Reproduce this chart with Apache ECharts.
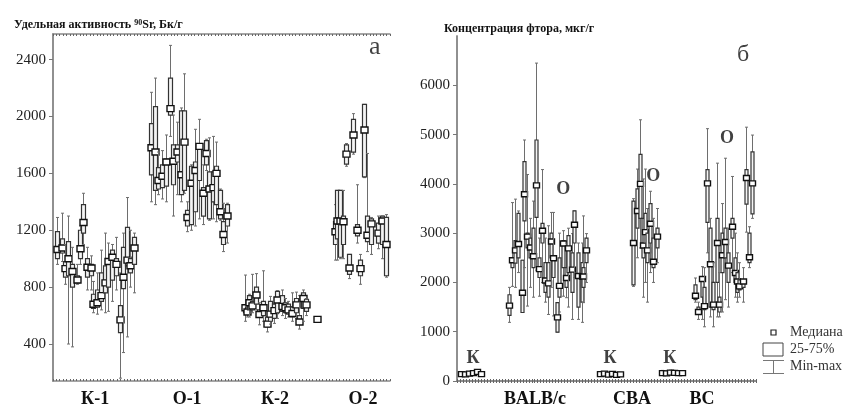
<!DOCTYPE html>
<html>
<head>
<meta charset="utf-8">
<script src="https://cdn.jsdelivr.net/npm/echarts@6/dist/echarts.min.js"></script>
<style>
html, body { margin: 0; padding: 0; background: #fff; }
#chart { width: 845px; height: 408px; }
</style>
</head>
<body>
<div id="chart"></div>
<script>
// rows: sample position, min, q1, median, q3, max

// panel a, 90Sr activity, Bq/g
var sr_k1 = [
    [1.2, 960, 1000, 1065, 1190, 1290],
    [2.7, 980, 1040, 1075, 1140, 1320],
    [3.6, 820, 870, 930, 980, 1100],
    [4.5, 400, 880, 1000, 1120, 1300],
    [5.6, 380, 800, 910, 960, 1080],
    [7.1, 820, 830, 850, 880, 960],
    [8.0, 960, 1000, 1070, 1200, 1230],
    [8.9, 1100, 1180, 1255, 1380, 1460],
    [10.1, 780, 870, 940, 1000, 1080],
    [11.3, 780, 880, 935, 960, 1020],
    [11.9, 620, 650, 680, 750, 840],
    [13.1, 610, 660, 690, 780, 900],
    [14.2, 640, 700, 740, 900, 1060],
    [15.4, 620, 760, 830, 950, 1180],
    [16.3, 630, 800, 980, 1000, 1110],
    [17.5, 700, 850, 1010, 1060, 1100],
    [18.7, 780, 880, 960, 1000, 1150],
    [19.9, 160, 480, 570, 670, 900],
    [20.8, 340, 790, 870, 1080, 1180],
    [22.0, 450, 950, 990, 1220, 1430],
    [22.8, 800, 900, 950, 1000, 1200],
    [24.0, 760, 960, 1075, 1150, 1180]
];
var sr_o1 = [
    [29.1, 1400, 1590, 1780, 1950, 2170],
    [30.3, 1380, 1480, 1750, 2070, 2270],
    [31.2, 1450, 1490, 1550, 1640, 1750],
    [32.3, 1420, 1500, 1580, 1660, 1760],
    [33.5, 1400, 1510, 1680, 1700, 1870],
    [34.7, 1860, 2010, 2055, 2270, 2500],
    [35.6, 1300, 1520, 1685, 1800, 2010],
    [36.8, 1450, 1680, 1750, 1800, 1960],
    [38.0, 1400, 1450, 1590, 2040, 2060],
    [38.9, 1460, 1480, 1820, 2040, 2300],
    [39.8, 1190, 1230, 1290, 1340, 1400],
    [40.9, 1200, 1240, 1530, 1650, 1660],
    [42.1, 1230, 1330, 1620, 1680, 1910],
    [43.3, 1280, 1550, 1790, 1800, 1980],
    [44.5, 1240, 1300, 1460, 1500, 1660],
    [45.4, 1620, 1660, 1740, 1830, 1840],
    [46.3, 1270, 1280, 1490, 1610, 1850],
    [47.5, 1280, 1400, 1500, 1610, 1860],
    [48.4, 1260, 1380, 1600, 1650, 1820],
    [49.6, 1270, 1280, 1330, 1480, 1490],
    [50.4, 1050, 1100, 1170, 1260, 1390],
    [51.6, 1110, 1230, 1300, 1380, 1390]
];
var sr_k2 = [
    [57.0, 560, 620, 655, 675, 885],
    [57.6, 590, 610, 625, 660, 700],
    [58.2, 590, 640, 690, 740, 750],
    [59.1, 620, 640, 668, 700, 890],
    [60.2, 640, 680, 745, 800, 895],
    [61.1, 535, 590, 608, 640, 690],
    [62.3, 560, 600, 655, 700, 915],
    [63.5, 485, 520, 540, 590, 590],
    [64.4, 540, 560, 610, 700, 735],
    [65.6, 545, 580, 635, 680, 680],
    [66.5, 580, 620, 710, 770, 775],
    [68.0, 600, 630, 665, 740, 780],
    [68.8, 580, 620, 655, 690, 720],
    [69.7, 590, 610, 640, 680, 700],
    [70.9, 560, 590, 615, 660, 760],
    [72.1, 580, 620, 675, 720, 765],
    [73.0, 505, 540, 555, 600, 740],
    [74.2, 560, 650, 720, 760, 780],
    [75.1, 600, 630, 675, 715, 720],
    [78.3, 560, 560, 573, 590, 590]
];
var sr_o2 = [
    [83.7, 990, 1100, 1190, 1260, 1380],
    [84.3, 990, 1140, 1265, 1480, 1480],
    [85.2, 1000, 1010, 1265, 1480, 1480],
    [86.1, 1000, 1100, 1260, 1300, 1480],
    [87.0, 1650, 1665, 1735, 1800, 1810],
    [87.8, 860, 890, 935, 1030, 1030],
    [89.0, 1735, 1750, 1870, 1980, 2020],
    [90.2, 1110, 1160, 1200, 1240, 1520],
    [91.1, 820, 880, 930, 990, 1030],
    [92.3, 1570, 1575, 1905, 2085, 2085],
    [93.2, 1050, 1120, 1165, 1300, 1740],
    [94.4, 1030, 1100, 1245, 1280, 1290],
    [96.4, 1070, 1110, 1180, 1250, 1300],
    [97.6, 1000, 1100, 1265, 1300, 1300],
    [98.8, 870, 880, 1100, 1290, 1310]
];
var sr_groups = ['К-1', 'О-1', 'К-2', 'О-2'];
var sr_group_pos = [12.5, 39.8, 65.9, 92.0];
var sr_ticks = [400, 800, 1200, 1600, 2000, 2400];

// panel b, fluorine, mcg/g
var f_balb_k = [
    [1.3, 110, 125, 140, 160, 185],
    [2.7, 100, 115, 135, 150, 170],
    [4.0, 110, 130, 150, 170, 190],
    [5.4, 120, 140, 160, 180, 210],
    [6.7, 140, 160, 185, 200, 230],
    [8.0, 100, 120, 140, 160, 175]
];
var f_balb_o = [
    [17.4, 1190, 1330, 1530, 1750, 1900],
    [18.4, 1920, 2300, 2450, 2500, 3620],
    [19.4, 1900, 2390, 2650, 2850, 3690],
    [20.4, 2200, 2500, 2780, 3400, 3450],
    [21.7, 1390, 1390, 1790, 2450, 2450],
    [22.4, 2300, 3250, 3790, 4450, 4890],
    [23.4, 1520, 2700, 2930, 3000, 4190],
    [24.4, 1900, 2500, 2710, 2900, 3300],
    [25.4, 1700, 2300, 2530, 3100, 3650],
    [26.4, 2250, 3320, 3970, 4890, 6450],
    [27.4, 1720, 2100, 2270, 2500, 2900],
    [28.4, 2000, 2800, 3050, 3200, 4290],
    [29.4, 1600, 1800, 2040, 2400, 2900],
    [30.4, 1350, 1700, 1980, 2400, 3150],
    [31.4, 1900, 2500, 2830, 3000, 3420],
    [32.1, 1320, 2100, 2490, 2500, 3420],
    [33.4, 990, 990, 1290, 1590, 1590],
    [34.1, 1400, 1700, 1930, 2500, 3000],
    [35.5, 1720, 2300, 2790, 2850, 3050],
    [36.5, 1690, 1900, 2090, 2300, 2800],
    [37.1, 1500, 2200, 2690, 2950, 3100],
    [38.5, 1250, 1800, 2260, 2600, 2990],
    [39.1, 2100, 2800, 3170, 3450, 3450],
    [40.5, 1250, 1500, 2130, 2600, 2800],
    [41.8, 1190, 1600, 2120, 2400, 2800],
    [42.1, 1590, 1900, 2120, 2300, 3350],
    [43.1, 2000, 2400, 2650, 2900, 2990]
];
var f_cba_k = [
    [47.8, 100, 115, 140, 160, 180],
    [49.2, 110, 125, 150, 170, 190],
    [50.5, 90, 110, 130, 150, 170],
    [51.8, 100, 120, 145, 165, 185],
    [53.2, 90, 110, 125, 145, 160],
    [54.5, 100, 115, 135, 150, 170]
];
var f_cba_o = [
    [58.9, 1920, 1950, 2800, 3650, 3700],
    [60.2, 2500, 3100, 3450, 3900, 4300],
    [61.2, 2700, 3300, 4000, 4600, 5300],
    [62.2, 1700, 2500, 2750, 3300, 4100],
    [62.9, 2000, 2800, 3020, 3400, 4300],
    [63.5, 1600, 2400, 2650, 3000, 3500],
    [64.5, 2200, 2800, 3190, 3600, 3850],
    [65.6, 2000, 2300, 2420, 2900, 3300],
    [66.9, 2400, 2700, 2930, 3100, 3500]
];
var f_bc_k = [
    [68.6, 120, 140, 160, 185, 215],
    [69.9, 110, 135, 155, 180, 210],
    [71.2, 130, 150, 170, 195, 220],
    [72.6, 120, 140, 165, 190, 215],
    [73.9, 110, 135, 160, 185, 205],
    [75.3, 120, 140, 160, 180, 200]
];
var f_bc_o = [
    [79.6, 1600, 1650, 1730, 1950, 2090],
    [80.6, 1250, 1350, 1400, 1500, 1600],
    [81.9, 1250, 1700, 2070, 2100, 2320],
    [82.6, 1100, 1450, 1520, 1900, 2300],
    [83.6, 2600, 3220, 4010, 4290, 5120],
    [84.6, 1300, 1500, 2370, 3100, 3300],
    [85.6, 1100, 1450, 1550, 2000, 2400],
    [87.0, 1300, 2000, 2800, 3300, 4420],
    [87.6, 1300, 1400, 1550, 1700, 2200],
    [88.6, 1400, 2200, 2550, 3000, 3600],
    [89.6, 1650, 2500, 2820, 3100, 4520],
    [90.6, 1500, 2000, 2340, 2600, 3100],
    [92.0, 2200, 2900, 3130, 3300, 4150],
    [92.9, 1700, 2000, 2190, 2500, 3000],
    [93.6, 1600, 1800, 2020, 2200, 2600],
    [94.3, 1700, 1850, 1920, 2050, 2400],
    [95.7, 1600, 1900, 2020, 2050, 2300],
    [96.7, 3020, 3590, 4120, 4290, 5150],
    [97.7, 2300, 2400, 2510, 3000, 3130],
    [98.7, 3300, 3390, 4010, 4650, 4990]
];
var f_groups = ['BALB/c', 'CBA', 'BC'];
var f_group_pos = [26.1, 58.5, 81.9];
var f_ticks = [0, 1000, 2000, 3000, 4000, 5000, 6000];

// in-plot letters: position, value, text
var sr_notes = [[95.5, 2484, 'а']];
var f_bold_notes = [
    [5.4, 460, 'К'], [51.2, 460, 'К'], [71.2, 460, 'К'],
    [35.5, 3880, 'О'], [65.6, 4160, 'О'], [90.3, 4920, 'О']
];
var f_notes = [[95.7, 6620, 'б']];

var SERIF = '"Liberation Serif", "DejaVu Serif", serif';

function box_series(grid, data, bw, mw, mh)
{
    return {
        type: 'custom',
        xAxisIndex: grid * 2,
        yAxisIndex: grid * 2,
        data: data,
        encode: { x: 0, y: [1, 2, 3, 4, 5] },
        renderItem: function(params, api) {
            var x = api.value(0);
            var lo = api.coord([x, api.value(1)]);
            var q1 = api.coord([x, api.value(2)]);
            var md = api.coord([x, api.value(3)]);
            var q3 = api.coord([x, api.value(4)]);
            var hi = api.coord([x, api.value(5)]);
            var cx = Math.round(lo[0]) + 0.5;
            var grey = { stroke: '#6e6e6e', lineWidth: 1 };
            return {
                type: 'group',
                children: [
                    { type: 'line', shape: { x1: cx, y1: lo[1], x2: cx, y2: hi[1] }, style: grey },
                    { type: 'line', shape: { x1: cx - 1.5, y1: lo[1], x2: cx + 1.5, y2: lo[1] }, style: grey },
                    { type: 'line', shape: { x1: cx - 1.5, y1: hi[1], x2: cx + 1.5, y2: hi[1] }, style: grey },
                    { type: 'rect', shape: { x: cx - bw / 2, y: q3[1], width: bw, height: Math.max(q1[1] - q3[1], 1) },
                      style: { fill: '#f4f4f4', stroke: '#333', lineWidth: 1.2 } },
                    { type: 'rect', shape: { x: cx - mw / 2, y: md[1] - mh / 2, width: mw, height: mh },
                      style: { fill: '#fff', stroke: '#111', lineWidth: 1.4 } }
                ]
            };
        },
        z: 3
    };
}

function note_series(grid, notes, size, weight)
{
    return {
        type: 'scatter',
        xAxisIndex: grid * 2,
        yAxisIndex: grid * 2,
        symbolSize: 0,
        data: notes.map(function(n) { return { value: [n[0], n[1]], name: n[2] }; }),
        label: {
            show: true, position: 'inside', formatter: '{b}',
            fontFamily: SERIF, fontSize: size, fontWeight: weight, color: '#111'
        },
        silent: true,
        z: 5
    };
}

function x_axis(grid, names, pos)
{
    return {
        type: 'value', gridIndex: grid, min: 0, max: 100, interval: 1,
        axisLine: { lineStyle: { color: '#888', width: 1.5 } },
        axisTick: { inside: true, length: 2, lineStyle: { color: '#666' } },
        splitLine: { show: false },
        axisLabel: {
            customValues: pos, margin: 9,
            fontFamily: SERIF, fontSize: 18, fontWeight: 'bold', color: '#111',
            formatter: function(v) { return names[pos.indexOf(v)]; }
        }
    };
}

function x_axis_top(grid)
{
    return {
        type: 'value', gridIndex: grid, min: 0, max: 100, interval: 1, position: 'top',
        axisLine: { lineStyle: { color: '#888', width: 1.5 } },
        axisTick: { inside: true, length: 2, lineStyle: { color: '#666' } },
        splitLine: { show: false }, axisLabel: { show: false }
    };
}

function y_axes(grid, min, max, ticks)
{
    return [{
        type: 'value', gridIndex: grid, min: min, max: max,
        axisLine: { show: true, lineStyle: { color: '#888', width: 1.5 } },
        axisTick: { show: false },
        splitLine: { show: false },
        axisLabel: {
            customValues: ticks, margin: 7, fontFamily: SERIF, fontSize: 15, color: '#222',
            formatter: function(v) { return String(v); }
        }
    }, {
        type: 'value', gridIndex: grid, min: min, max: max, position: 'right',
        axisLine: { show: true, lineStyle: { color: '#888', width: 1.5 } },
        axisTick: { show: true, inside: true, length: 4, customValues: ticks, lineStyle: { color: '#777' } },
        splitLine: { show: false },
        axisLabel: { show: false }
    }];
}

var chart = echarts.init(document.getElementById('chart'));

var option = {
    backgroundColor: '#fff',
    animation: false,
    title: [{
        left: 9, top: 14,
        text: '{t|Удельная активность }{s|90}{t|Sr, Бк/г}',
        textStyle: {
            rich: {
                t: { fontFamily: SERIF, fontSize: 12, fontWeight: 'bold', color: '#111' },
                s: { fontFamily: SERIF, fontSize: 8, fontWeight: 'bold', color: '#111', verticalAlign: 'top', lineHeight: 10 }
            }
        }
    }, {
        left: 439, top: 18,
        text: 'Концентрация фтора, мкг/г',
        textStyle: { fontFamily: SERIF, fontSize: 12, fontWeight: 'bold', color: '#111' }
    }],
    grid: [
        { left: 53, top: 34, width: 337, height: 350 },
        { left: 457, top: 36, width: 299, height: 350 }
    ],
    xAxis: [
        x_axis(0, sr_groups, sr_group_pos),
        x_axis_top(0),
        x_axis(1, f_groups, f_group_pos),
        x_axis_top(1)
    ],
    yAxis: y_axes(0, 140, 2580, sr_ticks).concat(y_axes(1, 0, 7000, f_ticks)),
    series: [
        box_series(0, sr_k1, 4, 7, 6),
        box_series(0, sr_o1, 4, 7, 6),
        box_series(0, sr_k2, 4, 7, 6),
        box_series(0, sr_o2, 4, 7, 6),
        note_series(0, sr_notes, 26, 'normal'),
        box_series(1, f_balb_k, 3, 6, 5),
        box_series(1, f_balb_o, 3, 6, 5),
        box_series(1, f_cba_k, 3, 6, 5),
        box_series(1, f_cba_o, 3, 6, 5),
        box_series(1, f_bc_k, 3, 6, 5),
        box_series(1, f_bc_o, 3, 6, 5),
        note_series(1, f_bold_notes, 18, 'bold'),
        note_series(1, f_notes, 24, 'normal')
    ],
    graphic: [
        { type: 'rect', shape: { x: 771, y: 330, width: 5, height: 5 }, style: { fill: '#fff', stroke: '#222', lineWidth: 1.2 } },
        { type: 'text', x: 790, y: 325, style: { text: 'Медиана', font: '14px ' + SERIF, fill: '#333' } },
        { type: 'rect', shape: { x: 763, y: 343, width: 20, height: 13 }, style: { fill: '#fff', stroke: '#444', lineWidth: 1 } },
        { type: 'text', x: 790, y: 342, style: { text: '25-75%', font: '14px ' + SERIF, fill: '#333' } },
        { type: 'line', shape: { x1: 763, y1: 360.5, x2: 784, y2: 360.5 }, style: { stroke: '#777', lineWidth: 1 } },
        { type: 'line', shape: { x1: 773.5, y1: 360, x2: 773.5, y2: 373 }, style: { stroke: '#777', lineWidth: 1 } },
        { type: 'line', shape: { x1: 763, y1: 373.5, x2: 784, y2: 373.5 }, style: { stroke: '#777', lineWidth: 1 } },
        { type: 'text', x: 790, y: 359, style: { text: 'Min-max', font: '14px ' + SERIF, fill: '#333' } }
    ]
};

chart.setOption(option);
</script>
</body>
</html>
